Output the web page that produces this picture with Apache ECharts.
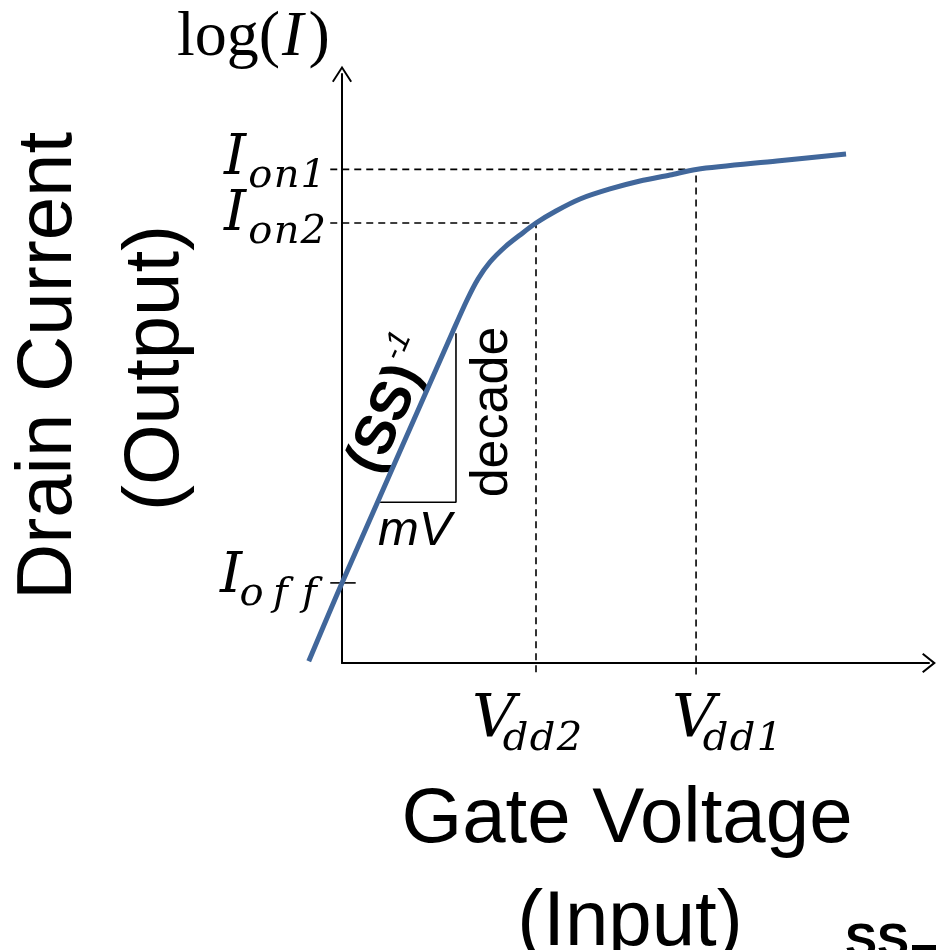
<!DOCTYPE html>
<html><head><meta charset="utf-8">
<script src="https://cdn.jsdelivr.net/npm/echarts@6/dist/echarts.min.js"></script>
<style>html,body{margin:0;padding:0;background:#fff}#c{width:936px;height:950px}</style>
</head><body><div id="c"></div>
<script>
// ---- data (arbitrary units: gate voltage, log10 of drain current) ----
const gateVoltage = [-0.34, 0, 1.135, 1.278, 1.39, 1.513, 1.666, 1.82, 1.983, 2.187, 2.433, 2.739, 3.046, 3.353, 3.619, 4.446, 5.152];
const logCurrent  = [-11.97, -10.64, -6.363, -5.837, -5.48, -5.192, -4.937, -4.733, -4.53, -4.326, -4.122, -3.952, -3.817, -3.715, -3.62, -3.477, -3.358];
const opNames  = ['2', '1'];          // operating points (V_dd2/I_on2 and V_dd1/I_on1)
const vddValues = [1.983, 3.619];
const ionValues = [-4.53, -3.62];
const ioffValue = -10.64;
const slopeTriX = [0.39, 1.165, 1.165];
const slopeTriY = [-9.27, -9.27, -6.40];
const xRange = [0, 6];
const yRange = [-12, -2];
const texts = {
  yTitle: ['Drain Current', '(Output)'],
  xTitle: ['Gate Voltage', '(Input)'],
  logI: ['log(', 'I', ')'],
  ss: ['(SS)', '-1'], decade: 'decade', mv: 'mV', cut: 'SS'
};

// ---- layout constants ----
const GUIDE_X0 = -0.12, GUIDE_Y0 = -12.2, TICK_X1 = 0.14;
const PAD = 0.5;   // extra data range of the (invisible) plotting grid beyond the drawn axes
const G = {left: 342, right: 7, top: 74, bottom: 287};
const pxX = (936 - G.left - G.right) / (xRange[1] - xRange[0]);
const pxY = (950 - G.top - G.bottom) / (yRange[1] - yRange[0]);
const chevX = 'path://M10,0 L20,12.6 L18.5,13.9 L10,3.3 L1.5,13.9 L0,12.6 Z';
const chevY = 'path://M10,0 L20,15.4 L18.4,16.5 L10,3.6 L1.6,16.5 L0,15.4 Z';

const chart = echarts.init(document.getElementById('c'), null, {renderer: 'canvas'});
const onPlot = {xAxisIndex: 1, yAxisIndex: 1, type: 'line', symbol: 'none', clip: false};
const series = [];
series.push(Object.assign({}, onPlot, {
  data: gateVoltage.map((v, i) => [v, logCurrent[i]]),
  smooth: 0.3, z: 5,
  lineStyle: {color: '#41679B', width: 5}
}));
opNames.forEach((n, i) => {
  series.push(Object.assign({}, onPlot, {
    z: 2,
    data: [[GUIDE_X0, ionValues[i]], [vddValues[i], ionValues[i]], [vddValues[i], GUIDE_Y0]],
    lineStyle: {color: '#000', width: 1.6, type: [7, 5]}
  }));
});
series.push(Object.assign({}, onPlot, {
  z: 2, data: [[GUIDE_X0, ioffValue], [TICK_X1, ioffValue]],
  lineStyle: {color: '#000', width: 1.6}
}));
series.push(Object.assign({}, onPlot, {
  z: 2, data: slopeTriX.map((v, i) => [v, slopeTriY[i]]),
  lineStyle: {color: '#000', width: 1.6}
}));

const axisCommon = {
  type: 'value', axisTick: {show: false}, axisLabel: {show: false}, splitLine: {show: false}
};
chart.setOption({
  animation: false,
  backgroundColor: '#fff',
  grid: [
    {left: G.left, right: G.right, top: G.top, bottom: G.bottom},
    {left: G.left - PAD * pxX, right: G.right, top: G.top, bottom: G.bottom - PAD * pxY}
  ],
  xAxis: [
    Object.assign({}, axisCommon, {
      gridIndex: 0, min: xRange[0], max: xRange[1],
      axisLine: {show: true, onZero: false, symbol: ['none', chevX], symbolSize: [20, 14],
        lineStyle: {color: '#000', width: 2}}
    }),
    Object.assign({}, axisCommon, {gridIndex: 1, show: false, min: xRange[0] - PAD, max: xRange[1]})
  ],
  yAxis: [
    Object.assign({}, axisCommon, {
      gridIndex: 0, min: yRange[0], max: yRange[1],
      axisLine: {show: true, onZero: false, symbol: ['none', chevY], symbolSize: [20, 17],
        lineStyle: {color: '#000', width: 2}}
    }),
    Object.assign({}, axisCommon, {gridIndex: 1, show: false, min: yRange[0] - PAD, max: yRange[1]})
  ],
  series: series
});

// ---- text annotations ----
const mc = document.createElement('canvas').getContext('2d');
function baseOff(font) { mc.font = font; mc.textBaseline = 'middle'; return mc.measureText('H').actualBoundingBoxDescent; }
function textW(font, s) { mc.font = font; mc.textBaseline = 'alphabetic'; return mc.measureText(s).width; }
function txt(s, font, x, baseline, align, rot) {
  const o = baseOff(font);
  const el = {type: 'text', z: 10, style: {text: s, font: font, fill: '#000', align: align || 'left', verticalAlign: 'middle'}};
  if (rot) { el.x = x - o * Math.sin(rot); el.y = baseline - o * Math.cos(rot); el.rotation = rot; }
  else { el.x = x; el.y = baseline - o; }
  return el;
}
function spaced(s, font, left, baseline, pitch) {
  return s.split('').map((c, i) => txt(c, font, left + pitch * (i + 0.5), baseline, 'center'));
}
const P = (x, y) => chart.convertToPixel({gridIndex: 0}, [x, y]);
const MAIN = 'italic 56px "DejaVu Serif"';
const MAINV = 'italic 60px "DejaVu Serif"';
const SUB = 'italic 40px "DejaVu Serif"';
const SANS = '78px "Liberation Sans"';
const g = [];
const axisX = P(0, 0)[0];
const axisY = P(0, yRange[0])[1];

// log(I)
{
  const f1 = '64px "Liberation Serif"', f2 = 'italic 64px "Liberation Serif"';
  let x = 177;
  g.push(txt(texts.logI[0], f1, x, 55)); x += textW(f1, texts.logI[0]);
  g.push(txt(texts.logI[1], f2, x + 2, 55)); x += textW(f2, texts.logI[1]) + 7;
  g.push(txt(texts.logI[2], f1, x, 55));
}
// I_on labels
opNames.forEach((n, i) => {
  const py = P(0, ionValues[i])[1];
  const b = py + (i === 0 ? 7 : 5);
  g.push(txt('I', MAIN, axisX - 118, b));
  g.push(...spaced('on' + n, SUB, axisX - 95, b + 13, 26.5));
});
// I_off
{
  const py = P(0, ioffValue)[1];
  g.push(txt('I', MAIN, axisX - 122, py + 9));
  g.push(...spaced('off', SUB, axisX - 105, py + 22, 29));
}
// V_dd labels
const vOff = [-64, -24];
opNames.forEach((n, i) => {
  const px = P(vddValues[i], 0)[0];
  g.push(txt('V', MAINV, px + vOff[i], axisY + 74));
  g.push(...spaced('dd' + n, SUB, px + vOff[i] + 30, axisY + 87, 27));
});
// axis titles
g.push(txt(texts.xTitle[0], SANS, 627, 842, 'center'));
g.push(txt(texts.xTitle[1], SANS, 630, 945, 'center'));
g.push(txt(texts.yTitle[0], SANS, 71, 366, 'center', Math.PI / 2));
g.push(txt(texts.yTitle[1], SANS, 178, 368, 'center', Math.PI / 2));
// slope annotation
g.push(txt(texts.decade, '52px "Liberation Sans"', 507, 412, 'center', Math.PI / 2));
g.push(txt(texts.mv, 'italic 49px "Liberation Sans"', 378, 545, 'left'));
{
  const pa = P(gateVoltage[1], logCurrent[1]), pb = P(gateVoltage[2], logCurrent[2]);
  let dx = pb[0] - pa[0], dy = pb[1] - pa[1];
  const L = Math.hypot(dx, dy); dx /= L; dy /= L;
  const th = Math.atan2(-dy, dx);
  const nx = dy, ny = -dx;
  const t = 112, off = 10;
  const ox = pa[0] + dx * t + nx * off, oy = pa[1] + dy * t + ny * off;
  const fA = 'bold 56px "Liberation Sans"', fB = 'italic 32px "Liberation Sans"';
  const wA = textW(fA, texts.ss[0]);
  g.push({type: 'group', x: ox, y: oy, rotation: th, z: 10, children: [
    {type: 'text', x: 0, y: -baseOff(fA), style: {text: texts.ss[0], font: fA, fill: '#000', align: 'left', verticalAlign: 'middle'}},
    {type: 'text', x: wA + 1, y: -26 - baseOff(fB), style: {text: texts.ss[1], font: fB, fill: '#000', align: 'left', verticalAlign: 'middle'}}
  ]});
}
// cut-off text at bottom right
g.push(txt(texts.cut, 'bold 48px "Liberation Sans"', 845, 957, 'left'));
g.push({type: 'rect', shape: {x: 912, y: 945, width: 24, height: 5}, style: {fill: '#000'}});

chart.setOption({graphic: g});
</script></body></html>
